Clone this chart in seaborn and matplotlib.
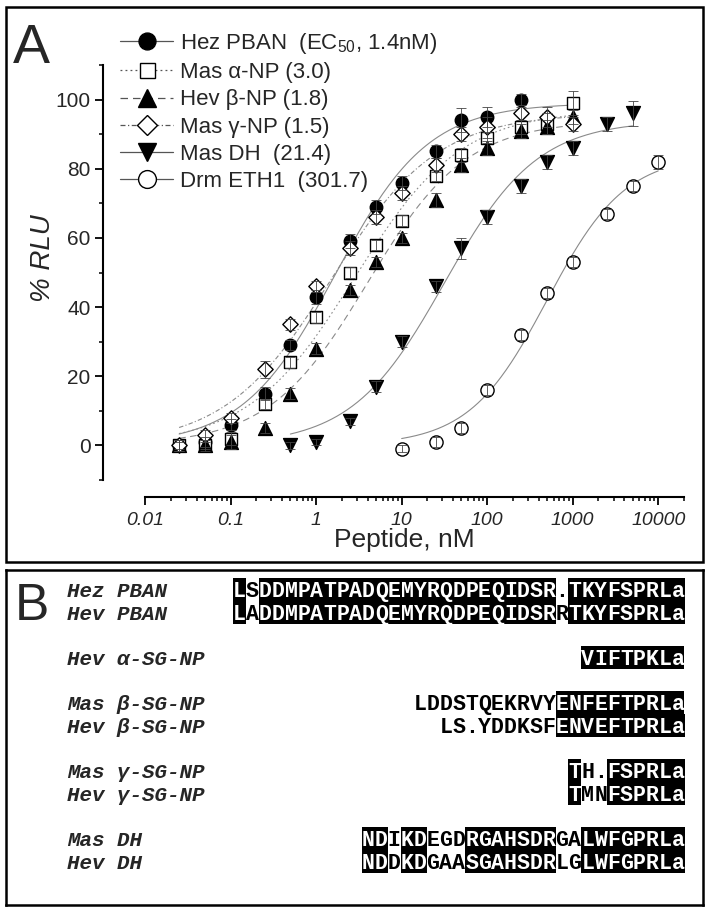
import numpy as np
import pandas as pd
import matplotlib
matplotlib.use('Agg')
import matplotlib.pyplot as plt
from matplotlib.lines import Line2D
from matplotlib.patches import Rectangle
import seaborn as sns

sns.set_theme(style='ticks')
plt.rcParams['font.family'] = ['Liberation Sans', 'DejaVu Sans']
plt.rcParams['mathtext.default'] = 'regular'

# ---- panel A: dose-response data (% RLU vs peptide, nM) ----
hez_pban_x = [0.025, 0.05, 0.1, 0.25, 0.5, 1, 2.5, 5, 10, 25, 50, 100, 250]
hez_pban_y = [0, 1, 6, 15, 29, 43, 59, 69, 76, 85, 94, 95, 100]
hez_pban_err = [1.5, 1.5, 1.5, 2, 1.5, 2, 2, 2, 2, 2, 3.5, 3, 1.5]

mas_alpha_x = [0.025, 0.05, 0.1, 0.25, 0.5, 1, 2.5, 5, 10, 25, 50, 100, 250, 500, 1000]
mas_alpha_y = [0, 0, 2, 12, 24, 37, 50, 58, 65, 78, 84, 89, 92, 93, 99]
mas_alpha_err = [1.5, 1.5, 2, 1.5, 1.5, 1.5, 1.5, 1.5, 1.5, 1.5, 2, 1.5, 2, 3, 3.5]

hev_beta_x = [0.025, 0.05, 0.1, 0.25, 0.5, 1, 2.5, 5, 10, 25, 50, 100, 250, 500, 1000]
hev_beta_y = [0, 0, 1, 5, 15, 28, 45, 53, 60, 71, 81, 86, 91, 92, 95]
hev_beta_err = [1, 1, 2, 1.5, 1.5, 1.5, 1.5, 1.5, 1.5, 2, 2, 2, 2, 2, 2]

mas_gamma_x = [0.025, 0.05, 0.1, 0.25, 0.5, 1, 2.5, 5, 10, 25, 50, 100, 250, 500, 1000]
mas_gamma_y = [0, 3, 8, 22, 35, 46, 57, 66, 73, 81, 90, 92, 96, 95, 93]
mas_gamma_err = [1.5, 1.5, 1.5, 2.5, 1.5, 1.5, 2, 2, 2, 2, 2, 3, 2, 3, 2]

mas_dh_x = [0.5, 1, 2.5, 5, 10, 25, 50, 100, 250, 500, 1000, 2500, 5000]
mas_dh_y = [0, 1, 7, 17, 30, 46, 57, 66, 75, 82, 86, 93, 96]
mas_dh_err = [1, 1, 1, 1.5, 1.5, 1.5, 3, 2, 2, 2, 2, 2, 3.5]

drm_eth1_x = [10, 25, 50, 100, 250, 500, 1000, 2500, 5000, 10000]
drm_eth1_y = [-1, 1, 5, 16, 32, 44, 53, 67, 75, 82]
drm_eth1_err = [1, 1.5, 1.5, 1.5, 1.5, 1.5, 1.5, 1.5, 1.5, 2]

series_labels = ['Hez PBAN  (EC$_{50}$, 1.4nM)', 'Mas \u03b1-NP (3.0)', 'Hev \u03b2-NP (1.8)',
                 'Mas \u03b3-NP (1.5)', 'Mas DH  (21.4)', 'Drm ETH1  (301.7)']
fit_range = [(0.025, 1000), (0.025, 1000), (0.025, 1000), (0.025, 1000), (0.5, 5000), (10, 10000)]

x_ticks = [0.01, 0.1, 1, 10, 100, 1000, 10000]
x_ticklabels = ['0.01', '0.1', '1', '10', '100', '1000', '10000']

# ---- panel B: sequence alignment ----
b_names = ['Hez PBAN', 'Hev PBAN', 'Hev \u03b1-SG-NP', 'Mas \u03b2-SG-NP', 'Hev \u03b2-SG-NP',
           'Mas \u03b3-SG-NP', 'Hev \u03b3-SG-NP', 'Mas DH', 'Hev DH']
b_seqs = ['LSDDMPATPADQEMYRQDPEQIDSR.TKYFSPRLa',
          'LADDMPATPADQEMYRQDPEQIDSRRTKYFSPRLa',
          'VIFTPKLa',
          'LDDSTQEKRVYENFEFTPRLa',
          'LS.YDDKSFENVEFTPRLa',
          'TH.FSPRLa',
          'TMNFSPRLa',
          'NDIKDEGDRGAHSDRGALWFGPRLa',
          'NDDKDGAASGAHSDRLGLWFGPRLa']
b_masks = ['10' + '11111111111111111111111' + '0' + '111111111',
           '10' + '11111111111111111111111' + '0' + '111111111',
           '11111111',
           '00000000000' + '1111111111',
           '000000000' + '1111111111',
           '100111111',
           '100111111',
           '11' + '0' + '11' + '000' + '1111111' + '00' + '11111111',
           '11' + '0' + '11' + '000' + '1111111' + '00' + '11111111']


def hill(x, ec50, top, n):
    return top / (1.0 + (ec50 / x) ** n)


def fit_hill(x, y):
    # brute-force least squares on a parameter grid
    x = np.asarray(x, float)
    y = np.asarray(y, float)
    e, t, n = np.meshgrid(10 ** np.linspace(-1.5, 3.5, 201), np.arange(70, 111, 1.0),
                          np.arange(0.5, 2.01, 0.05), indexing='ij')
    pred = hill(x, e[..., None], t[..., None], n[..., None])
    sse = ((pred - y) ** 2).sum(-1)
    i = np.unravel_index(np.argmin(sse), sse.shape)
    return e[i], t[i], n[i]


xs = [hez_pban_x, mas_alpha_x, hev_beta_x, mas_gamma_x, mas_dh_x, drm_eth1_x]
ys = [hez_pban_y, mas_alpha_y, hev_beta_y, mas_gamma_y, mas_dh_y, drm_eth1_y]
errs = [hez_pban_err, mas_alpha_err, hev_beta_err, mas_gamma_err, mas_dh_err, drm_eth1_err]

markers = ['o', 's', '^', 'D', 'v', 'o']
msizes = [9, 8, 10, 7.8, 10, 9.5]
faces = ['black', 'white', 'black', 'white', 'black', 'white']
curve_styles = ['-', (0, (1.5, 2.5)), (0, (6, 4)), (0, (4, 2, 1, 2)), '-', '-']
curve_color = '#8a8a8a'

W, H = 709, 917
fig = plt.figure(figsize=(W / 100, H / 100), dpi=100)

# panel A frame
fig.add_artist(Rectangle((6 / W, 1 - 562 / H), 697 / W, 555 / H, transform=fig.transFigure,
                         fill=False, lw=1.8, color='black'))

ax = fig.add_axes([103 / W, 1 - 480 / H, 581 / W, 415 / H])
ax.set_facecolor('none')
ax.set_xscale('log')

for i in range(6):
    lo, hi = fit_range[i]
    e50, top, n = fit_hill(xs[i], ys[i])
    cx = np.logspace(np.log10(lo), np.log10(hi), 200)
    curve = pd.DataFrame({'x': cx, 'y': hill(cx, e50, top, n)})
    sns.lineplot(data=curve, x='x', y='y', ax=ax, color=curve_color, lw=0.8,
                 linestyle=curve_styles[i], zorder=1)

for i in range(6):
    pts = pd.DataFrame({'x': xs[i], 'y': ys[i]})
    sns.scatterplot(data=pts, x='x', y='y', ax=ax, marker=markers[i], s=msizes[i] ** 2,
                    color=faces[i], edgecolor='black', linewidth=1.0, zorder=3, legend=False)
    ax.errorbar(xs[i], ys[i], yerr=errs[i], fmt='none', ecolor='#444444', elinewidth=0.6,
                capsize=3.5, capthick=0.6, zorder=4)

ax.set_xlim(10 ** -2.492, 2e4)
ax.set_ylim(-10, 110)
sns.despine(ax=ax)
ax.spines['bottom'].set_position(('outward', 12))
ax.spines['bottom'].set_bounds(0.01, 20000)
for s in ['left', 'bottom']:
    ax.spines[s].set_linewidth(1.5)
    ax.spines[s].set_color('black')

ax.set_xticks(x_ticks)
ax.set_xticklabels(x_ticklabels, fontstyle='italic')
minor = [k * 10.0 ** p for p in range(-2, 5) for k in range(2, 10) if k * 10.0 ** p <= 20000]
ax.set_xticks(minor, minor=True)
ax.set_xticklabels([], minor=True)
ax.set_yticks([0, 20, 40, 60, 80, 100])
ax.set_yticks([-10, 10, 30, 50, 70, 90, 110], minor=True)
ax.tick_params(axis='both', which='major', length=6, width=1.3, color='black', direction='out')
ax.tick_params(axis='both', which='minor', length=3, width=1.1, color='black', direction='out')
ax.tick_params(axis='x', which='major', labelsize=14, pad=5)
ax.tick_params(axis='y', which='major', labelsize=15, pad=3)

ax.set_xlabel('Peptide, nM', fontsize=19)
ax.xaxis.set_label_coords((404 - 103) / 581, (480 - 528) / 415)
ax.set_ylabel('% RLU', fontsize=20, fontstyle='italic')
ax.yaxis.set_label_coords((56 - 103) / 581, (480 - 258) / 415)

handles = [Line2D([], [], color='#555555', ls=curve_styles[i], lw=0.9, marker=markers[i],
                  ms=msizes[i] * 1.35, mfc=faces[i], mec='black', mew=1.0) for i in range(6)]
fig.legend(handles, series_labels, loc='upper left', bbox_to_anchor=(120 / W, 1 - 31 / H),
           frameon=False, fontsize=16, handlelength=2.4, handletextpad=0.3,
           labelspacing=0.28, borderpad=0, borderaxespad=0)

fig.text(13 / W, 1 - 63 / H, 'A', fontsize=40, va='baseline', ha='left')

# ---- panel B ----
axb = fig.add_axes([6 / W, 1 - 905 / H, 697 / W, 335 / H])
axb.set_xlim(6, 703)
axb.set_ylim(905, 570)
axb.set_xticks([])
axb.set_yticks([])
for s in axb.spines.values():
    s.set_visible(True)
    s.set_linewidth(1.8)
    s.set_color('black')

fig.text(15 / W, 1 - 620 / H, 'B', fontsize=37, va='baseline', ha='left')

b_baselines = [597, 620, 665, 710, 733, 778, 801, 846, 869]
cw = 12.9
x_right = 684.5
mono = ['Liberation Mono', 'DejaVu Sans Mono']
for name, seq, mask, base in zip(b_names, b_seqs, b_masks, b_baselines):
    axb.text(67, base, name, family=mono, fontsize=15, fontweight='bold', fontstyle='italic',
             va='baseline', ha='left')
    x0 = x_right - len(seq) * cw
    for j, (ch, m) in enumerate(zip(seq, mask)):
        xl = x0 + j * cw
        if m == '1':
            axb.add_patch(Rectangle((xl, base - 19), cw, 23, color='black', lw=0))
        axb.text(xl + cw / 2, base, ch, family=mono, fontsize=15.5, fontweight='bold',
                 color='white' if m == '1' else 'black', va='baseline', ha='center')

fig.savefig('out.png', dpi=100)
